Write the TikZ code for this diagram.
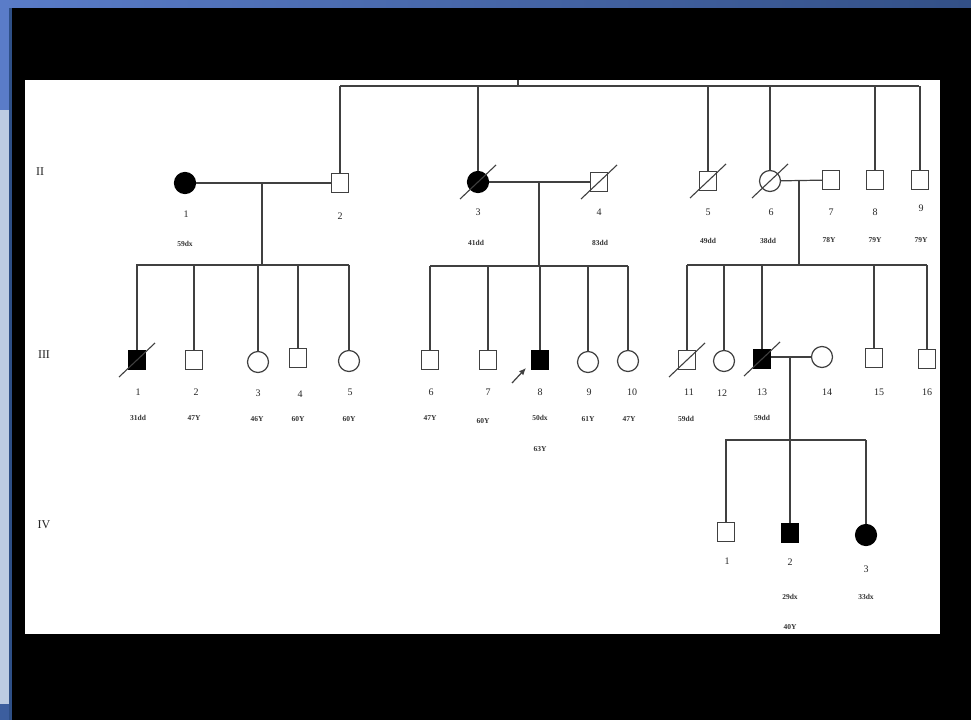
\documentclass[tikz,border=0pt]{standalone}
\usepackage{fontspec}
\setmainfont{Liberation Serif}
\usetikzlibrary{arrows.meta}
\definecolor{frameblue}{HTML}{3C5E9E}
\definecolor{lightblue}{HTML}{5A7CC8}
\definecolor{paleblue}{HTML}{BCCBE2}
\definecolor{edgeblue}{HTML}{2E4F86}
\definecolor{linegray}{HTML}{404040}
\tikzset{
  male/.style={draw=linegray, line width=1.2pt, fill=white, rectangle, minimum width=17pt, minimum height=19pt, inner sep=0pt},
  female/.style={draw=linegray, line width=1.2pt, fill=white, circle, minimum size=21pt, inner sep=0pt},
  affected/.style={fill=black, draw=black},
  link/.style={draw=linegray, line width=1.2pt},
  dslash/.style={draw=linegray, line width=1.1pt},
  numlab/.style={font=\fontsize{10}{11}\selectfont, inner sep=0pt, text=black!85},
  agelab/.style={font=\fontsize{7.5}{8}\selectfont\bfseries, inner sep=0pt, text=black!80},
  genlab/.style={font=\fontsize{12}{13}\selectfont, inner sep=0pt, text=black!85}
}
\newcommand{\deadmark}[1]{\draw[dslash] ([shift={(-18pt,-17pt)}]#1.center) -- ([shift={(18pt,17pt)}]#1.center);}
\begin{document}
\begin{tikzpicture}[x=1pt,y=-1pt]
% frame
\useasboundingbox (0,0) rectangle (971,720);
\fill[frameblue] (0,0) rectangle (971,720);
\shade[left color=lightblue, right color=frameblue!85!black] (0,0) rectangle (971,8);
\fill[lightblue] (0,0) rectangle (9,110);
\fill[paleblue] (0,110) rectangle (9,704);
\fill[edgeblue] (9,8) rectangle (12,720);
\fill[black] (12,8) rectangle (971,720);
\fill[white] (25,80) rectangle (940,634);

% generation labels
\node[genlab] (gII) at (40,172) {II};
\node[genlab] (gIII) at (44,355) {III};
\node[genlab] (gIV) at (44,525) {IV};

% top sibship
\coordinate (topL) at (340,86);
\coordinate (topR) at (919,86);
\coordinate (topM) at (518,86);
\coordinate (topMu) at (518,80);
\draw[link] (topL) -- (topR);
\draw[link] (topM) -- (topMu);

% generation II
\node[female,affected] (II1) at (185,183) {};
\node[male] (II2) at (340,183) {};
\node[female,affected] (II3) at (478,182) {};
\node[male] (II4) at (599,182) {};
\node[male] (II5) at (708,181) {};
\node[female] (II6) at (770,181) {};
\node[male] (II7) at (831,180) {};
\node[male] (II8) at (875,180) {};
\node[male] (II9) at (920,180) {};
\deadmark{II3}
\deadmark{II4}
\deadmark{II5}
\deadmark{II6}

\foreach \n in {II2,II3,II5,II6,II8,II9}{\draw[link] (\n.north) -- (\n.north |- topL);}
\draw[link] (II1) -- (II2);
\draw[link] (II3) -- (II4);
\draw[link] (II6) -- (II7);

% labels II
\node[numlab] (nII1) at (186,214) {1};
\node[agelab] (aII1) at (185,244) {59dx};
\node[numlab] (nII2) at (340,216) {2};
\node[numlab] (nII3) at (478,212) {3};
\node[agelab] (aII3) at (476,243) {41dd};
\node[numlab] (nII4) at (599,212) {4};
\node[agelab] (aII4) at (600,243) {83dd};
\node[numlab] (nII5) at (708,212) {5};
\node[agelab] (aII5) at (708,241) {49dd};
\node[numlab] (nII6) at (771,212) {6};
\node[agelab] (aII6) at (768,241) {38dd};
\node[numlab] (nII7) at (831,212) {7};
\node[agelab] (aII7) at (829,240) {78Y};
\node[numlab] (nII8) at (875,212) {8};
\node[agelab] (aII8) at (875,240) {79Y};
\node[numlab] (nII9) at (921,208) {9};
\node[agelab] (aII9) at (921,240) {79Y};

% sibship coordinates
\coordinate (c1) at (262,183);
\coordinate (s1L) at (136,265);
\coordinate (s1R) at (349,265);
\coordinate (c2) at (539,182);
\coordinate (s2L) at (430,266);
\coordinate (s2R) at (628,266);
\coordinate (c3) at (799,181);
\coordinate (s3L) at (687,265);
\coordinate (s3R) at (927,265);
\draw[link] (s1L) -- (s1R);
\draw[link] (s2L) -- (s2R);
\draw[link] (s3L) -- (s3R);
\draw[link] (c1) -- (c1 |- s1L);
\draw[link] (c2) -- (c2 |- s2L);
\draw[link] (c3) -- (c3 |- s3L);

% generation III
\node[male,affected] (III1) at (137,360) {};
\node[male] (III2) at (194,360) {};
\node[female] (III3) at (258,362) {};
\node[male] (III4) at (298,358) {};
\node[female] (III5) at (349,361) {};
\node[male] (III6) at (430,360) {};
\node[male] (III7) at (488,360) {};
\node[male,affected] (III8) at (540,360) {};
\node[female] (III9) at (588,362) {};
\node[female] (III10) at (628,361) {};
\node[male] (III11) at (687,360) {};
\node[female] (III12) at (724,361) {};
\node[male,affected] (III13) at (762,359) {};
\node[female] (III14) at (822,357) {};
\node[male] (III15) at (874,358) {};
\node[male] (III16) at (927,359) {};
\deadmark{III1}
\deadmark{III11}
\deadmark{III13}

\foreach \n in {III1,III2,III3,III4,III5}{\draw[link] (\n.north) -- (\n.north |- s1L);}
\foreach \n in {III6,III7,III8,III9,III10}{\draw[link] (\n.north) -- (\n.north |- s2L);}
\foreach \n in {III11,III12,III13,III15,III16}{\draw[link] (\n.north) -- (\n.north |- s3L);}
\draw[link] (III13.east |- III14) -- (III14);

% proband arrow
\coordinate (arT) at (526,368);
\coordinate (arS) at (512,383);
\draw[link, -{Latex[length=7pt,width=6pt]}] (arS) -- (arT);

% labels III
\node[numlab] (nIII1) at (138,392) {1};
\node[agelab] (aIII1) at (138,418) {31dd};
\node[numlab] (nIII2) at (196,392) {2};
\node[agelab] (aIII2) at (194,418) {47Y};
\node[numlab] (nIII3) at (258,393) {3};
\node[agelab] (aIII3) at (257,419) {46Y};
\node[numlab] (nIII4) at (300,394) {4};
\node[agelab] (aIII4) at (298,419) {60Y};
\node[numlab] (nIII5) at (350,392) {5};
\node[agelab] (aIII5) at (349,419) {60Y};
\node[numlab] (nIII6) at (431,392) {6};
\node[agelab] (aIII6) at (430,418) {47Y};
\node[numlab] (nIII7) at (488,392) {7};
\node[agelab] (aIII7) at (483,421) {60Y};
\node[numlab] (nIII8) at (540,392) {8};
\node[agelab] (aIII8) at (540,418) {50dx};
\node[agelab] (bIII8) at (540,449) {63Y};
\node[numlab] (nIII9) at (589,392) {9};
\node[agelab] (aIII9) at (588,419) {61Y};
\node[numlab] (nIII10) at (632,392) {10};
\node[agelab] (aIII10) at (629,419) {47Y};
\node[numlab] (nIII11) at (689,392) {11};
\node[agelab] (aIII11) at (686,419) {59dd};
\node[numlab] (nIII12) at (722,393) {12};
\node[numlab] (nIII13) at (762,392) {13};
\node[agelab] (aIII13) at (762,418) {59dd};
\node[numlab] (nIII14) at (827,392) {14};
\node[numlab] (nIII15) at (879,392) {15};
\node[numlab] (nIII16) at (927,392) {16};

% generation IV
\coordinate (c4) at (790,358);
\coordinate (s4L) at (725,440);
\coordinate (s4R) at (866,440);
\draw[link] (c4) -- (c4 |- s4L);
\draw[link] (s4L) -- (s4R);
\node[male] (IV1) at (726,532) {};
\node[male,affected] (IV2) at (790,533) {};
\node[female,affected] (IV3) at (866,535) {};
\foreach \n in {IV1,IV2,IV3}{\draw[link] (\n.north) -- (\n.north |- s4L);}
\node[numlab] (nIV1) at (727,561) {1};
\node[numlab] (nIV2) at (790,562) {2};
\node[numlab] (nIV3) at (866,569) {3};
\node[agelab] (aIV2) at (790,597) {29dx};
\node[agelab] (bIV2) at (790,627) {40Y};
\node[agelab] (aIV3) at (866,597) {33dx};
\end{tikzpicture}
\end{document}
